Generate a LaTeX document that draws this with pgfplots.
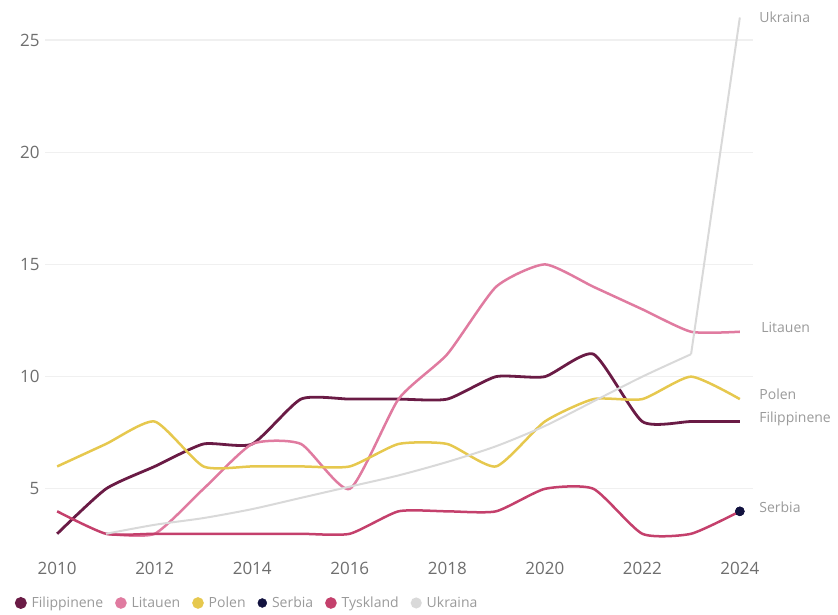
\documentclass[border=0pt]{standalone}
\usepackage{pgfplots}
\pgfplotsset{compat=1.18}
\usepackage{fontspec}
\setmainfont{Open Sans}
\definecolor{cFil}{HTML}{6A1B45}
\definecolor{cLit}{HTML}{E07BA0}
\definecolor{cPol}{HTML}{E6C84E}
\definecolor{cSer}{HTML}{12123F}
\definecolor{cTys}{HTML}{C4406C}
\definecolor{cUkr}{HTML}{D9D9D9}
\definecolor{cGrid}{HTML}{F0F0F0}
\definecolor{cTick}{HTML}{6E6E6E}
\definecolor{cLab}{HTML}{9A9A9A}
\begin{document}
\begin{tikzpicture}[x=1pt,y=1pt]
\path[use as bounding box] (0,0) rectangle (838,615);
\begin{axis}[
  at={(45pt,70pt)}, anchor=south west,
  scale only axis, width=708pt, height=532pt,
  xmin=2009.75, xmax=2024.27, ymin=2.5, ymax=26.2,
  axis line style={draw=none},
  clip=false,
  xtick={2010,2012,...,2024},
  ytick={5,10,15,20,25},
  xticklabel style={font=\fontsize{17}{20}\selectfont, text=cTick, /pgf/number format/1000 sep={}, yshift=-14pt},
  yticklabel style={font=\fontsize{17}{20}\selectfont, text=cTick, xshift=-2pt},
  /pgf/number format/assume math mode=true,
  tick style={draw=none},
  ymajorgrids, grid style={cGrid, line width=1.2pt},
  legend columns=-1,
  legend style={draw=none, fill=none, font=\fontsize{14}{16}\selectfont\color{cLab},
    at={(rel axis cs:-0.047,-0.109)}, anchor=west,
    /tikz/every odd column/.append style={column sep=3pt},
    /tikz/every even column/.append style={column sep=10pt}},
  legend image code/.code={\fill[#1] (0pt,0pt) circle (4.5pt);},
]
\addplot[cFil, line width=2.8pt, smooth, tension=0.35] coordinates {
(2010,3) (2011,5) (2012,6) (2013,7) (2014,7) (2015,9) (2016,9) (2017,9) (2018,9) (2019,10) (2020,10) (2021,11) (2022,8) (2023,8) (2024,8)};
\addlegendentry{Filippinene}
\addplot[cLit, line width=2.5pt, smooth, tension=0.35] coordinates {
(2011,3) (2012,3) (2013,5) (2014,7) (2015,7) (2016,5) (2017,9) (2018,11) (2019,14) (2020,15) (2021,14) (2022,13) (2023,12) (2024,12)};
\addlegendentry{Litauen}
\addplot[cPol, line width=2.5pt, smooth, tension=0.35] coordinates {
(2010,6) (2011,7) (2012,8) (2013,6) (2014,6) (2015,6) (2016,6) (2017,7) (2018,7) (2019,6) (2020,8) (2021,9) (2022,9) (2023,10) (2024,9)};
\addlegendentry{Polen}
\addplot[cSer, only marks, mark=*, mark size=4.5pt] coordinates {(2024,4)};
\addlegendentry{Serbia}
\addplot[cTys, line width=2.5pt, smooth, tension=0.35] coordinates {
(2010,4) (2011,3) (2012,3) (2013,3) (2014,3) (2015,3) (2016,3) (2017,4) (2018,4) (2019,4) (2020,5) (2021,5) (2022,3) (2023,3) (2024,4)};
\addlegendentry{Tyskland}
\addplot[cUkr, line width=2pt, smooth, tension=0.45] coordinates {
(2011,3) (2012,3.4) (2013,3.7) (2014,4.1) (2015,4.6) (2016,5.1) (2017,5.6) (2018,6.2) (2019,6.9) (2020,7.8) (2021,8.9) (2022,10) (2023,11)};
\addlegendentry{Ukraina}
\addplot[cUkr, line width=2pt, forget plot] coordinates {(2023,11) (2024,26)};
\addplot[cSer, only marks, mark=*, mark size=4.5pt, forget plot] coordinates {(2024,4)};
\begin{scope}[every node/.style={anchor=west, text=cLab, font=\fontsize{14}{16}\selectfont}]
\node at (axis cs:2024,26) [xshift=16pt] {Ukraina};
\node at (axis cs:2024,12.2) [xshift=18pt] {Litauen};
\node at (axis cs:2024,9.2) [xshift=16pt] {Polen};
\node at (axis cs:2024,8.1) [xshift=16pt] {Filippinene};
\node at (axis cs:2024,4.2) [xshift=16pt] {Serbia};
\end{scope}
\end{axis}
\end{tikzpicture}
\end{document}
